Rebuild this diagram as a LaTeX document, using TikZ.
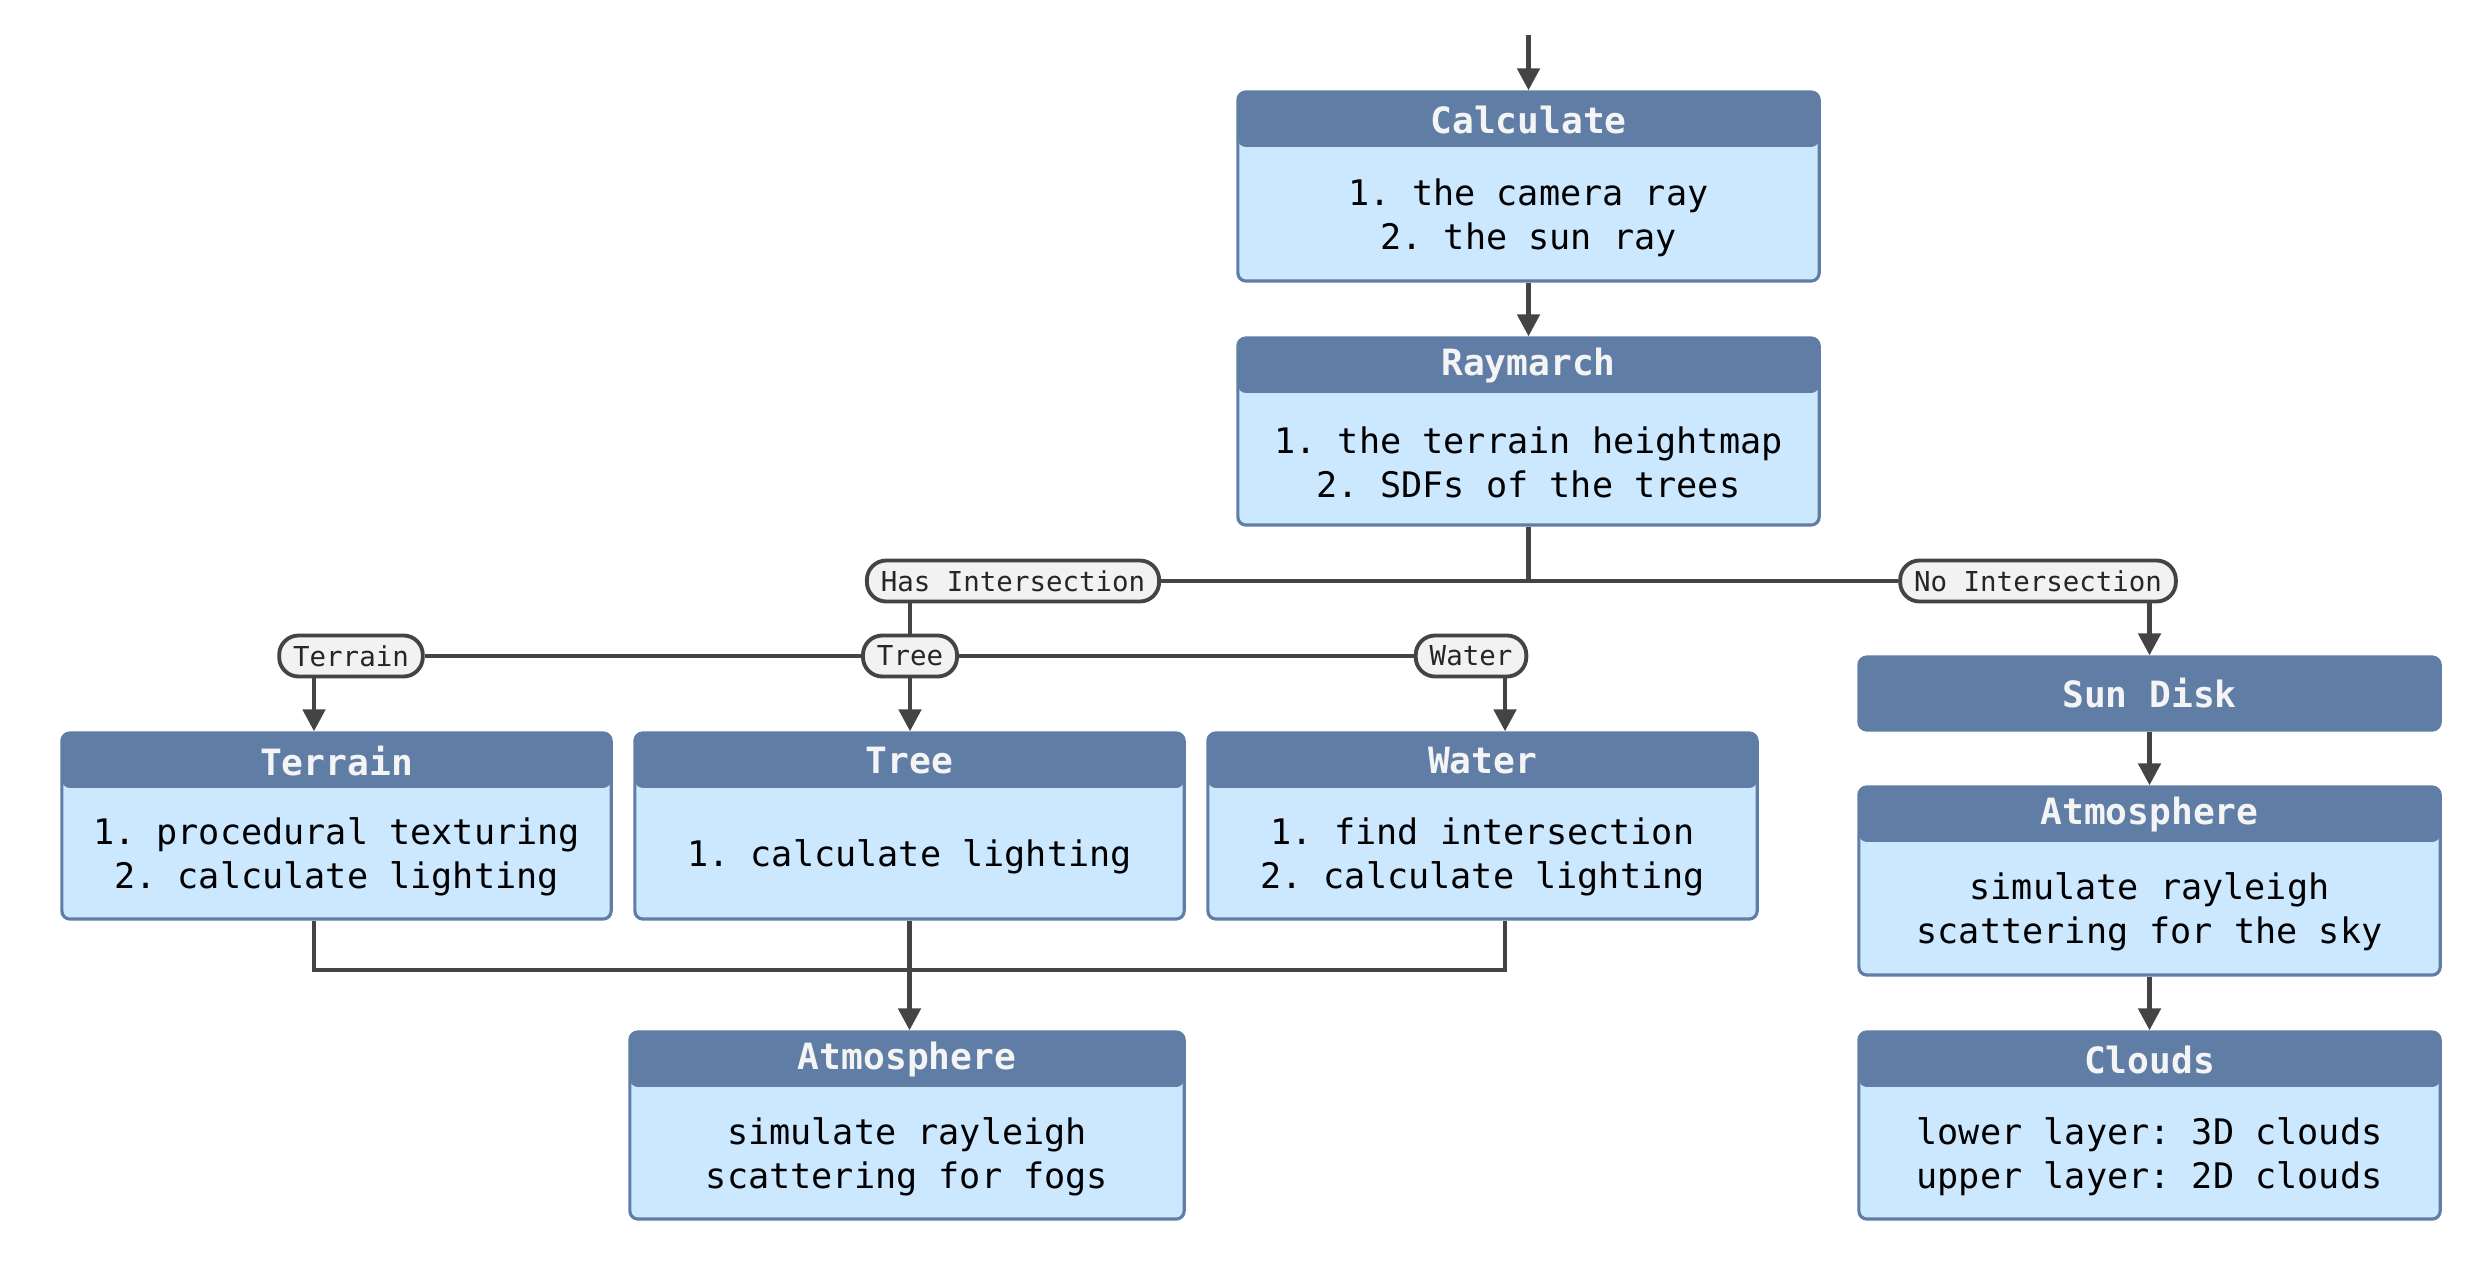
\documentclass[tikz,border=0pt]{standalone}
\usepackage{fontspec}
\setmonofont{DejaVu Sans Mono}
\usetikzlibrary{arrows.meta,positioning}
\definecolor{hdblue}{HTML}{5F7DA5}
\definecolor{bdblue}{HTML}{CCE8FF}
\definecolor{linegray}{HTML}{444444}
\definecolor{pillgray}{HTML}{F2F2F2}
\definecolor{titlewhite}{HTML}{F4F4F4}
\tikzset{
  boxframe/.style={draw=hdblue, fill=bdblue, line width=0.9pt, rounded corners=2.3pt, inner sep=0pt, minimum width=#1,
    path picture={\fill[hdblue] (path picture bounding box.north west) rectangle ([yshift=-0.55cm]path picture bounding box.north east);}},
  sunframe/.style={draw=hdblue, fill=hdblue, line width=0.9pt, rounded corners=2.3pt, inner sep=0pt, minimum width=#1, text=titlewhite, font=\ttfamily\bfseries\fontsize{10.3}{12}\selectfont},
  boxtitle/.style={text=titlewhite, font=\ttfamily\bfseries\fontsize{10.3}{12}\selectfont, inner sep=0pt},
  boxtext/.style={align=center, font=\ttfamily\fontsize{10}{12.5}\selectfont, inner sep=0pt},
  pill/.style={draw=linegray, fill=pillgray, line width=1.1pt, rounded corners=5.5pt, minimum height=0.41cm, inner xsep=0.14cm, inner ysep=0pt, text=black!85, font=\ttfamily\fontsize{7.8}{9}\selectfont},
  conn/.style={draw=linegray, line width=1.4pt},
  arr/.style={conn, -{Triangle[length=0.22cm,width=0.22cm]}}
}
\begin{document}
\frenchspacing
\begin{tikzpicture}[x=0.01cm, y=-0.01cm]
\useasboundingbox (0,0) rectangle (2489,1282);
% main column
\coordinate (start) at (1528.5,35);
\node[boxframe=5.81cm, minimum height=1.89cm] (calc) at (1528.5,186.5) {};
\node[boxtitle] (calc-t) at ([yshift=-0.295cm]calc.north) {Calculate};
\node[boxtext] (calc-b) at ([yshift=-0.31cm]calc.center) {1. the camera ray\\2. the sun ray};
\node[boxframe=5.81cm, minimum height=1.87cm] (ray) at (1528.5,431.5) {};
\node[boxtitle] (ray-t) at ([yshift=-0.295cm]ray.north) {Raymarch};
\node[boxtext] (ray-b) at ([yshift=-0.31cm]ray.center) {1. the terrain heightmap\\2. SDFs of the trees};
% branches
\node[pill] (has) at (1013,581) {Has Intersection};
\node[pill] (no) at (2038,581) {No Intersection};
\node[pill] (terr-p) at (351,656) {Terrain};
\node[pill] (tree-p) at (910,656) {Tree};
\node[pill] (water-p) at (1471,656) {Water};
\coordinate (tcol) at (314,0);
\coordinate (wcol) at (1505,0);
\coordinate (mrg) at (0,970);
% hit boxes
\node[boxframe=5.49cm, minimum height=1.86cm] (terrain) at (336.5,826) {};
\node[boxtitle] (terrain-t) at ([yshift=-0.295cm]terrain.north) {Terrain};
\node[boxtext] (terrain-b) at ([yshift=-0.31cm]terrain.center) {1. procedural texturing\\2. calculate lighting};
\node[boxframe=5.49cm, minimum height=1.86cm] (tree) at (909.5,826) {};
\node[boxtitle] (tree-t) at ([yshift=-0.295cm]tree.north) {Tree};
\node[boxtext] (tree-b) at ([yshift=-0.31cm]tree.center) {1. calculate lighting};
\node[boxframe=5.49cm, minimum height=1.86cm] (water) at (1482.5,826) {};
\node[boxtitle] (water-t) at ([yshift=-0.295cm]water.north) {Water};
\node[boxtext] (water-b) at ([yshift=-0.31cm]water.center) {1. find intersection\\2. calculate lighting};
\node[boxframe=5.54cm, minimum height=1.87cm] (atmosl) at (907,1125.5) {};
\node[boxtitle] (atmosl-t) at ([yshift=-0.295cm]atmosl.north) {Atmosphere};
\node[boxtext] (atmosl-b) at ([yshift=-0.31cm]atmosl.center) {simulate rayleigh\\scattering for fogs};
% sky column
\node[sunframe=5.81cm, minimum height=0.73cm] (sun) at (2149.5,693.5) {Sun Disk};
\node[boxframe=5.81cm, minimum height=1.88cm] (atmosr) at (2149.5,881) {};
\node[boxtitle] (atmosr-t) at ([yshift=-0.295cm]atmosr.north) {Atmosphere};
\node[boxtext] (atmosr-b) at ([yshift=-0.31cm]atmosr.center) {simulate rayleigh\\scattering for the sky};
\node[boxframe=5.81cm, minimum height=1.87cm] (clouds) at (2149.5,1125.5) {};
\node[boxtitle] (clouds-t) at ([yshift=-0.295cm]clouds.north) {Clouds};
\node[boxtext] (clouds-b) at ([yshift=-0.31cm]clouds.center) {lower layer: 3D clouds\\upper layer: 2D clouds};
% connectors
\draw[arr] (start) -- (calc.north);
\draw[arr] (calc.south) -- (ray.north);
\draw[conn] (ray.south) -- (ray.south |- has.east);
\draw[conn] (has.east) -- (no.west);
\draw[conn] (tree-p.north |- has.south) -- (tree-p.north);
\draw[conn] (terr-p.east) -- (tree-p.west) (tree-p.east) -- (water-p.west);
\draw[arr] (tcol |- terr-p.south) -- (tcol |- terrain.north);
\draw[arr] (tree-p.south) -- (tree-p.south |- tree.north);
\draw[arr] (wcol |- water-p.south) -- (wcol |- water.north);
\draw[conn] (tcol |- terrain.south) -- (tcol |- mrg) -- (wcol |- mrg) -- (wcol |- water.south);
\draw[arr] (tree.south) -- (tree.south |- atmosl.north);
\draw[arr] (sun.north |- no.south) -- (sun.north);
\draw[arr] (sun.south) -- (atmosr.north);
\draw[arr] (atmosr.south) -- (clouds.north);
\end{tikzpicture}
\end{document}
